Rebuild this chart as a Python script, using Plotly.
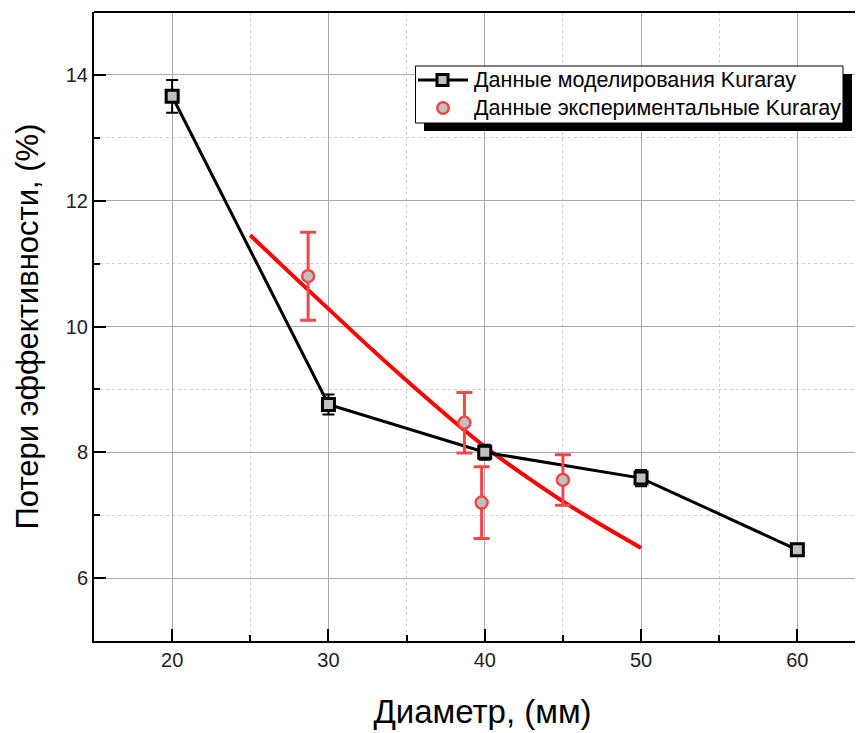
import plotly.graph_objects as go

# Simulation data (black squares)
sim_x = [20, 30, 40, 50, 60]
sim_y = [13.66, 8.76, 8.0, 7.59, 6.45]
sim_err = [0.26, 0.16, 0.12, 0.13, 0.05]

# Experimental data (red circles)
exp_x = [28.7, 38.7, 39.8, 45.0]
exp_y = [10.8, 8.47, 7.2, 7.56]
exp_err = [0.70, 0.48, 0.57, 0.40]

# Fit curve (red line)
fit_x = [25, 27.5, 30, 32.5, 35, 37.5, 40, 42.5, 45, 47.5, 50]
fit_y = [11.45, 10.86, 10.28, 9.70, 9.14, 8.60, 8.09, 7.64, 7.22, 6.84, 6.48]

x_ticks = [20, 30, 40, 50, 60]
y_ticks = [6, 8, 10, 12, 14]

legend_names = ["Данные моделирования Kuraray", "Данные экспериментальные Kuraray"]

FONT = "Liberation Sans, Arial, sans-serif"
GRAY = "#c0c0c0"
RED_MK = "#f04848"

fig = go.Figure()

fig.add_trace(go.Scatter(
    x=fit_x, y=fit_y, mode="lines", line=dict(color="#ff0000", width=4, shape="spline"),
    showlegend=False, hoverinfo="skip"))

fig.add_trace(go.Scatter(
    x=sim_x, y=sim_y, mode="lines+markers", name=legend_names[0],
    line=dict(color="black", width=3),
    marker=dict(symbol="square", size=12, color=GRAY, line=dict(color="black", width=3)),
    error_y=dict(type="data", array=sim_err, color="black", thickness=2, width=6)))

fig.add_trace(go.Scatter(
    x=exp_x, y=exp_y, mode="markers", name=legend_names[1],
    marker=dict(symbol="circle", size=12, color=GRAY, line=dict(color=RED_MK, width=2.5)),
    error_y=dict(type="data", array=exp_err, color=RED_MK, thickness=3, width=8)))

W, H = 863, 733
OFF = 8  # page offset of the figure inside the browser window
L, R, T, B = 86, 0, 4, 100
pw, ph = W - L - R, H - T - B
SX0 = L + OFF            # screen x of plot left edge
SY1 = H - B + OFF        # screen y of plot bottom edge
PXU = 15.63              # px per x unit


def px(sx):
    return (sx - SX0) / pw


def py(sy):
    return (SY1 - sy) / ph


def rect(x0, y0, x1, y1, **kw):
    fig.add_shape(type="rect", xref="paper", yref="paper",
                  x0=px(x0), x1=px(x1), y0=py(y1), y1=py(y0), layer="above", **kw)


# custom legend
rect(424, 74, 852, 131, fillcolor="black", line=dict(width=0))
rect(415.5, 66, 843, 123, fillcolor="white", line=dict(color="black", width=1))
for xa, xb in [(418, 436), (449, 468)]:
    fig.add_shape(type="line", xref="paper", yref="paper", x0=px(xa), x1=px(xb),
                  y0=py(80), y1=py(80), line=dict(color="black", width=3), layer="above")
rect(437, 74.5, 448, 85.5, fillcolor=GRAY, line=dict(color="black", width=3))
fig.add_shape(type="circle", xref="paper", yref="paper",
              x0=px(443 - 5.75), x1=px(443 + 5.75), y0=py(108 + 5.75), y1=py(108 - 5.75),
              fillcolor=GRAY, line=dict(color=RED_MK, width=2.5), layer="above")
for i, yy in enumerate([80, 108]):
    fig.add_annotation(xref="paper", yref="paper", x=px(472), y=py(yy), text=legend_names[i],
                       showarrow=False, xanchor="left", yanchor="middle",
                       font=dict(size=21.5, family=FONT, color="black"))

# top border
fig.add_shape(type="line", xref="paper", yref="paper", x0=0, x1=1, y0=1, y1=1,
              line=dict(color="black", width=2), layer="above")

fig.update_layout(
    width=W, height=H, margin=dict(l=L, r=R, t=T, b=B),
    paper_bgcolor="white", plot_bgcolor="white",
    font=dict(family=FONT, color="black"),
    showlegend=False,
    xaxis=dict(range=[15, 15 + pw / PXU], tickvals=x_ticks, ticks="inside", ticklen=12, tickwidth=2,
               tickcolor="black", showline=True, linecolor="black", linewidth=2,
               showgrid=True, gridcolor="#aaaaaa", gridwidth=1, zeroline=False, automargin=False,
               tickfont=dict(size=20, color="#222"),
               title=dict(text="Диаметр, (мм)", font=dict(size=33), standoff=30),
               minor=dict(dtick=5, tick0=15, ticks="inside", ticklen=6, tickwidth=2, tickcolor="black",
                          showgrid=True, gridcolor="#d0d0d0", griddash="dot", gridwidth=1)),
    yaxis=dict(range=[5, 15], tickvals=y_ticks, ticks="inside", ticklen=12, tickwidth=2,
               tickcolor="black", showline=True, linecolor="black", linewidth=2,
               showgrid=True, gridcolor="#aaaaaa", gridwidth=1, zeroline=False, automargin=False,
               tickfont=dict(size=20, color="#222"),
               title=dict(text="Потери эффективности, (%)", font=dict(size=31), standoff=18),
               minor=dict(dtick=1, tick0=5, ticks="inside", ticklen=6, tickwidth=2, tickcolor="black",
                          showgrid=True, gridcolor="#d0d0d0", griddash="dot", gridwidth=1)),
)

fig.write_html("out.html")
